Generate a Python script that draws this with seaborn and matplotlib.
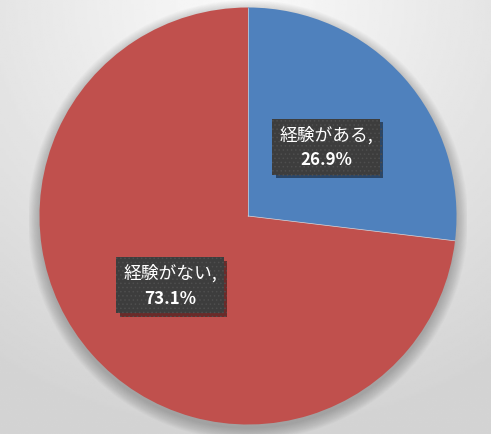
import numpy as np
import matplotlib.pyplot as plt
import matplotlib.patheffects as pe
from matplotlib.patches import Rectangle
from matplotlib.transforms import ScaledTranslation
import seaborn as sns

labels = ["経験がある", "経験がない"]
values = [26.9, 73.1]
colors = ["#4F81BD", "#C0504D"]

sns.set_style("white")
plt.rcParams["font.family"] = ["Noto Sans CJK JP", "DejaVu Sans"]
plt.rcParams["hatch.color"] = "#555555"
plt.rcParams["hatch.linewidth"] = 0.6

W, H = 491, 435
fig = plt.figure(figsize=(W / 100, H / 100), dpi=100)

# background gradient
bg = fig.add_axes([0, 0, 1, 1], zorder=0)
yy, xx = np.mgrid[0:1:200j, 0:1:200j]
d = np.sqrt(((xx - 0.5) * 1.1) ** 2 + (yy * 1.0) ** 2)
shade = 0.98 - 0.15 * np.clip(d, 0, 1)
bg.imshow(shade, cmap="gray", vmin=0, vmax=1, extent=[0, 1, 0, 1],
          origin="upper", aspect="auto")
bg.axis("off")

# pie axes
cx, cy, r = 248, H - 217, 208.5
ax = fig.add_axes([(cx - r * 1.05) / W, (cy - r * 1.05) / H,
                   2 * r * 1.05 / W, 2 * r * 1.05 / H], zorder=1)
ax.set_facecolor("none")

# soft shadow
for i in range(15):
    sh = plt.Circle((0, -0.02), 1.0 + 0.004 * i, color="black",
                    alpha=0.016, lw=0, zorder=0)
    ax.add_patch(sh)

wedges, _ = ax.pie(values, colors=colors, startangle=90, counterclock=False,
                   wedgeprops=dict(linewidth=0), radius=1)
ax.set_xlim(-1.05, 1.05)
ax.set_ylim(-1.05, 1.05)
ax.axis("off")

# thin light line between slices
for w in wedges:
    a = np.deg2rad(w.theta1)
    ax.plot([0, np.cos(a)], [0, np.sin(a)], color="#d0d6e0", lw=0.5, zorder=3)

fig.canvas.draw()
renderer = fig.canvas.get_renderer()

for w, lab, v in zip(wedges, labels, values):
    ang = np.deg2rad((w.theta1 + w.theta2) / 2)
    x, y = 0.5 * np.cos(ang), 0.5 * np.sin(ang)
    t1 = ax.annotate(f"{lab},", (x, y), xytext=(0, 12.5),
                     textcoords="offset pixels", ha="center", va="center",
                     color="white", fontsize=12.8, zorder=6)
    t2 = ax.annotate(f"{v}%", (x, y), xytext=(0, -12.5),
                     textcoords="offset pixels", ha="center", va="center",
                     color="white", fontsize=12.2, fontweight="bold", zorder=6)
    tw = max(t1.get_window_extent(renderer).width,
             t2.get_window_extent(renderer).width)
    bw, bh = (tw + 14) / 100, 56 / 100
    tr = fig.dpi_scale_trans + ScaledTranslation(x, y, ax.transData)
    box = Rectangle((-bw / 2, -bh / 2), bw, bh, transform=tr,
                    facecolor="#3d3d3d", edgecolor="#4e4e4e", linewidth=0,
                    hatch="....", zorder=5)
    box.set_path_effects([
        pe.SimplePatchShadow(offset=(2.5, -2.5), shadow_rgbFace="black",
                             alpha=0.45),
        pe.Normal()])
    ax.add_patch(box)

fig.savefig("out.png", dpi=100)
